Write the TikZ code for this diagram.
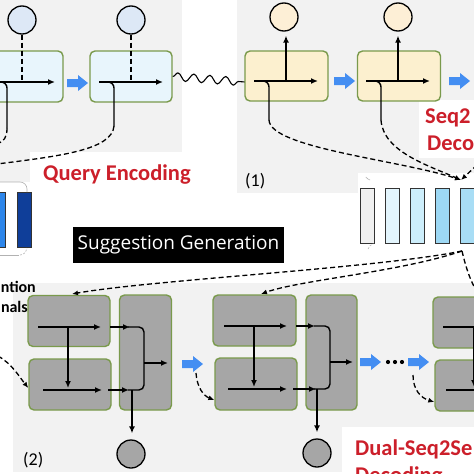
\documentclass[tikz,border=0pt]{standalone}
\usepackage{fontspec}
\setmainfont{Carlito}
\newfontfamily\sgfont{Open Sans}
\usetikzlibrary{arrows.meta,decorations.pathmorphing}
\definecolor{panelgray}{HTML}{F2F2F2}
\definecolor{boxgreen}{HTML}{7A9A4C}
\definecolor{qfill}{HTML}{E8F5FC}
\definecolor{qcirc}{HTML}{DDE8F6}
\definecolor{pfill}{HTML}{FCF0CF}
\definecolor{pcirc}{HTML}{FDEFD6}
\definecolor{dfill}{HTML}{A6A6A6}
\definecolor{bluearrow}{HTML}{448EF2}
\definecolor{redtext}{HTML}{CC1F2A}
\definecolor{barone}{HTML}{F0F0F0}
\definecolor{bartwo}{HTML}{E3F5FD}
\definecolor{barthree}{HTML}{CDEEFB}
\definecolor{barfour}{HTML}{9DD8F4}
\definecolor{barfive}{HTML}{A8DDF5}
\definecolor{barleftA}{HTML}{2D86EA}
\definecolor{barleftB}{HTML}{0F3E99}
\begin{document}
\begin{tikzpicture}[x=1pt,y=-1pt,
  qbox/.style={draw=boxgreen, line width=1.4pt, fill=qfill, rounded corners=5pt, minimum width=82pt, minimum height=51pt, inner sep=0pt},
  pbox/.style={draw=boxgreen, line width=1.4pt, fill=pfill, rounded corners=5pt, minimum width=83pt, minimum height=50pt, inner sep=0pt},
  dbox/.style={draw=boxgreen, line width=1.4pt, fill=dfill, rounded corners=5pt, minimum width=82pt, minimum height=51pt, inner sep=0pt},
  tallbox/.style={draw=boxgreen, line width=1.4pt, fill=dfill, rounded corners=5pt, minimum width=52pt, minimum height=115pt, inner sep=0pt},
  circ/.style={circle, draw=black, line width=1.3pt, minimum size=28pt, inner sep=0pt},
  barbox/.style={draw=black!80, line width=1pt, minimum width=14pt, minimum height=55pt, inner sep=0pt},
  arr/.style={line width=1.4pt, -{Latex[length=7pt,width=6pt]}},
  plain/.style={line width=1.4pt},
  dline/.style={line width=1.3pt, dash pattern=on 5pt off 3pt},
  darr/.style={line width=1.3pt, dash pattern=on 5pt off 3pt, -{Latex[length=6pt,width=5pt]}},
  redlabel/.style={text=redtext, font=\bfseries\fontsize{22.5}{24}\selectfont, inner sep=0pt, anchor=base west},
  numlabel/.style={font=\fontsize{18}{20}\selectfont, inner sep=0pt, anchor=base west},
  blacklabel/.style={font=\bfseries\fontsize{16}{18}\selectfont, inner sep=0pt, anchor=base east},
  barrow/.pic={\fill[bluearrow] (0,-4) -- (11,-4) -- (11,-8) -- (21,0) -- (11,8) -- (11,4) -- (0,4) -- cycle;}
]
\useasboundingbox (0,0) rectangle (474,474);
% panels
\fill[panelgray] (-2,-2) rectangle (182,182);
\fill[white] (30,152) rectangle (200,192);
\fill[panelgray] (237,-2) rectangle (476,193);
\fill[white] (419,100) rectangle (476,158);
\fill[white] (358,173) rectangle (476,196);
\fill[panelgray] (13,283) rectangle (476,472);
\fill[white] (342,427) rectangle (476,476);

% ---------- Query encoding ----------
\node[circ, fill=qcirc] (c1) at (22,20) {};
\node[circ, fill=qcirc] (c2) at (131,20) {};
\node[qbox] (q1) at (22,76.5) {};
\node[qbox] (q2) at (131,76.5) {};
\draw[dline] (c1.south) -- (22,82);
\draw[arr] (-10,82) -- (55,82);
\draw[plain, rounded corners=6pt] (-6,82) -- (7,82) -- (7,128);
\draw[dline] (7,128) .. controls (7,138) and (4,141) .. (-3,144);
\draw[dline] (c2.south) -- (131,82);
\draw[arr] (99,82) -- (163,82);
\draw[plain, rounded corners=6pt] (104,82) -- (114,82) -- (114,126);
\draw[dline] (114,126) .. controls (112,150) and (60,156) .. (-3,164);
\pic at (67,83) {barrow};
\draw[line width=1.1pt, decorate, decoration={snake, amplitude=4pt, segment length=16pt}] (q2.east) -- (245,82);

% ---------- Seq2Seq decoding ----------
\node[circ, fill=pcirc] (d1) at (284,17) {};
\node[circ, fill=pcirc] (d2) at (398,17) {};
\node[pbox] (p1) at (286.5,76) {};
\node[pbox] (p2) at (399,76) {};
\draw[arr] (286,81) -- ([yshift=-4pt]d1.south -| 286,0);
\draw[arr] (254,81) -- (318,81);
\draw[plain, rounded corners=6pt] (261,81) -- (269,81) -- (269,120);
\draw[arr] (398,81) -- ([yshift=-4pt]d2.south);
\draw[arr] (366,81) -- (430,81);
\draw[plain, rounded corners=6pt] (373,81) -- (381,81) -- (381,120);
\pic at (334,81) {barrow};
\pic at (449,81) {barrow};

% attention bars (right)
\node[barbox, fill=barone] (b1) at (367,215.5) {};
\node[barbox, fill=bartwo] (b2) at (392,215.5) {};
\node[barbox, fill=barthree] (b3) at (417,215.5) {};
\node[barbox, fill=barfour] (b4) at (442,215.5) {};
\node[barbox, fill=barfive] (b5) at (467,215.5) {};
\draw[gray!60, line width=0.6pt] (370,180) arc[start angle=110, end angle=140, radius=10];
\draw[gray!60, line width=0.6pt, dash pattern=on 2pt off 1.5pt] (368,249) arc[start angle=200, end angle=250, radius=9];
\coordinate (atop) at (461,180);
\coordinate (abot) at (462,251);
\draw[darr] (269,120) .. controls (270,148) and (400,160) .. (atop);
\draw[darr] (381,120) .. controls (383,152) and (430,166) .. (atop);
\draw[darr] (477,165) -- (atop);

% attention bars (left)
\node[barbox, fill=barleftA] (la) at (-2,219.5) {};
\node[barbox, fill=barleftB] (lb) at (24,219.5) {};
\draw[gray!60, line width=0.6pt, rounded corners=7pt] (-3,182) -- (27,182) -- (27,192);
\draw[gray!60, line width=0.6pt] (-3,255) -- (19,255);
\draw[gray!60, line width=0.6pt, dash pattern=on 2pt off 1.5pt] (20,255) .. controls (24,255) and (26,252) .. (27,248);

% Suggestion generation
\node[fill=black, text=white, minimum width=211pt, minimum height=36pt, inner sep=0pt, font=\sgfont\fontsize{19}{21}\selectfont] (sg) at (178.5,245) {Suggestion Generation};

% ---------- Dual-Seq2Seq decoding ----------
\node[dbox] (t1) at (69,321) {};
\node[dbox] (u1) at (70,384.5) {};
\node[tallbox] (r1) at (145.5,352.5) {};
\node[circ, fill=dfill] (o1) at (131,454) {};
\draw[arr] (38,327) -- (101,327);
\draw[arr] (68,327) -- (68,388);
\draw[arr] (43,390) -- (102,390);
\draw[arr] (110,327) -- (130,327);
\draw[arr] (108,390) -- (129,390);
\draw[plain, rounded corners=5pt] (128,327) -- (144,327) -- (144,390) -- (128,390);
\draw[arr] (144,363) -- (168,363);
\draw[arr] (132,390) -- ([yshift=6pt]o1.north -| 132,0);

\node[dbox, minimum width=83pt] (t2) at (254.5,320.5) {};
\node[dbox, minimum height=52pt] (u2) at (256,384) {};
\node[tallbox, minimum width=51pt] (r2) at (331.5,352.5) {};
\node[circ, fill=dfill] (o2) at (317,453) {};
\draw[arr] (224,326) -- (287,326);
\draw[arr] (254,326) -- (254,387);
\draw[arr] (228,389) -- (287,389);
\draw[arr] (296,326) -- (315,326);
\draw[arr] (293,389) -- (316,389);
\draw[plain, rounded corners=5pt] (314,326) -- (330,326) -- (330,389) -- (314,389);
\draw[arr] (330,362) -- (353,362);
\draw[arr] (317,389) -- ([yshift=6pt]o2.north);

\node[dbox] (t3) at (474,322.5) {};
\node[dbox] (u3) at (476,385.5) {};
\draw[plain] (443,327) -- (480,327);
\draw[arr] (474,327) -- (474,387);
\draw[plain] (446,390) -- (480,390);

\pic at (182,364) {barrow};
\pic at (360,362) {barrow};
\pic at (408,362) {barrow};
\fill (388,362) circle[radius=2.1];
\fill (395,362) circle[radius=2.1];
\fill (402,362) circle[radius=2.1];

\draw[darr] (-2,356) .. controls (12,364) and (18,375) .. (u1.west |- 0,388);
\draw[darr] (196,373) .. controls (197,388) and (204,396) .. (u2.west |- 0,400);
\draw[darr] (413,375) .. controls (413,390) and (421,398) .. (u3.west |- 0,402);
\draw[darr] (abot) .. controls (380,268) and (150,280) .. (72,294);
\draw[darr] (abot) .. controls (400,272) and (300,280) .. (261,294);
\draw[dline] (abot) .. controls (466,268) and (470,280) .. (477,292);

% labels
\node[redlabel] (lq) at (43,180) {Query Encoding};
\node[redlabel] (ls1) at (425,123) {Seq2};
\node[redlabel] (ls2) at (427,150) {Deco};
\node[redlabel] (ld1) at (355,455) {Dual-Seq2Se};
\node[redlabel] (ld2) at (355,482) {Decoding};
\node[numlabel] (n1) at (245,186) {(1)};
\node[numlabel] (n2) at (23,465) {(2)};
\node[blacklabel] (la1) at (36,292) {ntion};
\node[blacklabel] (la2) at (28,312) {nals};
\end{tikzpicture}
\end{document}
